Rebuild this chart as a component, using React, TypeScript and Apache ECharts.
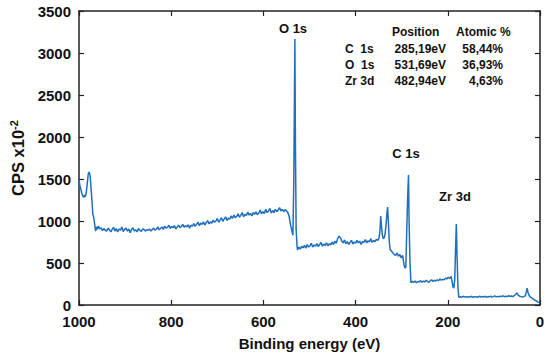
import React, { useEffect, useRef } from "react";
import * as echarts from "echarts";

// Binding energy (eV) and counts (CPS x10^-2)
const bindingEnergy: number[] = [
  1000, 998, 996, 994, 992, 990, 988, 986, 984, 982, 980, 978, 976, 974, 972, 970, 968, 966, 964, 962, 960,
  958, 955, 952, 949, 946, 943, 940, 937, 934, 931, 928, 925, 922, 919, 916, 913, 910, 907, 904, 901,
  898, 895, 892, 889, 886, 883, 880, 877, 874, 871, 868, 865, 862, 859, 856, 853, 850, 847, 844, 841,
  838, 835, 832, 829, 826, 823, 820, 817, 814, 811, 808, 805, 802, 799, 796, 793, 790, 787, 784, 781,
  778, 775, 772, 769, 766, 763, 760, 757, 754, 751, 748, 745, 742, 739, 736, 733, 730, 727, 724, 721,
  718, 715, 712, 709, 706, 703, 700, 697, 694, 691, 688, 685, 682, 679, 676, 673, 670, 667, 664, 661,
  658, 655, 652, 649, 646, 643, 640, 637, 634, 631, 628, 625, 622, 619, 616, 613, 610, 607, 604, 601,
  598, 595, 592, 589, 586, 583, 580, 577, 574, 571, 568, 565, 562, 559, 556, 553, 550, 547, 544, 541,
  538, 536, 534, 532.5, 531.7, 530.5, 529, 527, 526, 523, 520, 517, 514, 511, 508, 505, 502, 499, 496,
  493, 490, 487, 484, 481, 478, 475, 472, 469, 466, 463, 460, 457, 454, 451, 448, 445, 442, 439, 436,
  433, 430, 427, 424, 421, 418, 415, 412, 409, 406, 403, 400, 397, 394, 391, 388, 385, 382, 379, 376,
  373, 370, 367, 364, 361, 358, 355, 352, 349, 347, 345.5, 344, 342, 340, 338, 336, 334, 332, 330.5,
  329, 327, 325, 322, 319, 316, 313, 310, 307, 304, 301, 298, 295, 293, 291, 289, 287, 285.2, 284, 282,
  280, 277, 274, 271, 268, 265, 262, 259, 256, 253, 250, 247, 244, 241, 238, 235, 232, 229, 226, 223,
  220, 217, 214, 211, 208, 205, 202, 199, 196, 193, 191, 189, 187, 185, 183, 181.5, 180, 178, 176,
  173, 170, 167, 164, 161, 158, 155, 152, 149, 146, 143, 140, 137, 134, 131, 128, 125, 122, 119, 116,
  113, 110, 107, 104, 101, 98, 95, 92, 89, 86, 83, 80, 77, 74, 71, 68, 65, 62, 59, 56, 53, 50, 47, 44,
  41, 38, 35, 32, 30, 28, 26, 24, 22, 20, 16, 12, 8, 4, 0,
];

const cps: number[] = [
  1490, 1420, 1380, 1330, 1300, 1280, 1310, 1290, 1350, 1450, 1560, 1583, 1540, 1400, 1250, 1080, 1040, 960, 880, 930, 900,
  940, 905, 920, 885, 910, 890, 880, 915, 895, 870, 900, 925, 880, 910, 870, 905, 890, 930, 875, 900,
  915, 880, 905, 860, 900, 920, 880, 895, 870, 910, 890, 875, 905, 900, 880, 895, 890, 905, 880, 900,
  915, 890, 905, 930, 895, 910, 930, 900, 940, 915, 925, 950, 910, 935, 920, 945, 905, 930, 950, 920,
  935, 960, 925, 945, 930, 955, 915, 950, 940, 970, 935, 960, 985, 945, 975, 960, 990, 950, 980, 1005,
  965, 990, 975, 1010, 985, 1000, 1030, 985, 1010, 1040, 995, 1025, 1050, 1005, 1035, 1020, 1060, 1030, 1070, 1040,
  1055, 1085, 1045, 1070, 1100, 1050, 1080, 1065, 1105, 1070, 1090, 1060, 1100, 1080, 1110, 1075, 1095, 1130, 1085, 1110,
  1090, 1140, 1100, 1120, 1150, 1095, 1125, 1100, 1140, 1110, 1130, 1160, 1120, 1140, 1110, 1135, 1120, 1100, 1050, 950,
  880, 830, 1500, 2600, 3167, 1900, 900, 700, 655, 690, 665, 700, 680, 710, 675, 720, 690, 705, 735,
  690, 715, 700, 730, 695, 720, 745, 700, 725, 710, 740, 705, 730, 715, 750, 720, 760, 735, 790, 820,
  800, 760, 740, 775, 730, 755, 720, 745, 770, 725, 750, 735, 770, 740, 760, 720, 755, 745, 780, 740,
  765, 750, 790, 745, 770, 755, 780, 770, 800, 900, 1060, 950, 830, 790, 800, 850, 950, 1100, 1167,
  1000, 760, 660, 640, 620, 600, 590, 620, 580, 600, 560, 590, 480, 440, 450, 900, 1300, 1548, 1000, 500,
  265, 280, 270, 285, 265, 280, 275, 290, 270, 285, 275, 295, 280, 270, 290, 300, 280, 295, 285, 300,
  290, 310, 295, 305, 300, 320, 310, 330, 315, 340, 290, 220, 200, 300, 700, 964, 600, 200, 90,
  100, 90, 105, 95, 100, 90, 100, 95, 105, 90, 100, 95, 100, 92, 105, 95, 100, 96, 104, 92,
  100, 97, 105, 95, 100, 108, 97, 103, 98, 106, 100, 110, 98, 105, 100, 110, 102, 108, 100, 112, 125, 143, 115, 105,
  100, 95, 100, 110, 150, 202, 150, 120, 100, 90, 75, 60, 50, 35, 25,
];

const tableHeader: string[] = ["Position", "Atomic %"];
const tableElements: string[] = ["C  1s", "O  1s", "Zr 3d"];
const tablePositions: string[] = ["285,19eV", "531,69eV", "482,94eV"];
const tableAtomic: string[] = ["58,44%", "36,93%", "4,63%"];
const peakLabels: string[] = ["O 1s", "C 1s", "Zr 3d"];

const FONT = "'Liberation Sans', Arial, Helvetica, sans-serif";
const LINE = "#1f6fbf";
const AXIS = "#222";

export default function App() {
  const ref = useRef<HTMLDivElement>(null);
  useEffect(() => {
    if (!ref.current) return;
    const chart = echarts.init(ref.current, undefined, { renderer: "svg" });
    const data = bindingEnergy.map((e, i) => [e, cps[i]]);
    const txt = (x: number, y: number, text: string, align: string, size = 12) => ({
      type: "text",
      x,
      y,
      style: {
        text,
        fill: "#111",
        font: `bold ${size}px ${FONT}`,
        textAlign: align,
        textVerticalAlign: "middle",
      },
    });
    const rowsY = [49, 65, 81];
    const graphics: any[] = [
      txt(293, 28, peakLabels[0], "center", 13),
      txt(406, 153, peakLabels[1], "center", 13),
      txt(455, 196, peakLabels[2], "center", 13),
      txt(392, 32, tableHeader[0], "left"),
      txt(456, 32, tableHeader[1], "left"),
    ];
    tableElements.forEach((el, i) => {
      graphics.push(txt(345, rowsY[i], el, "left"));
      graphics.push(txt(446, rowsY[i], tablePositions[i], "right"));
      graphics.push(txt(503, rowsY[i], tableAtomic[i], "right"));
    });
    const commonAxis = {
      axisLine: { show: true, onZero: false, lineStyle: { color: AXIS, width: 1.5 } },
      axisTick: { show: true, inside: true, length: 5, lineStyle: { color: AXIS, width: 1.2 } },
      splitLine: { show: false },
    };
    const labelStyle = {
      color: "#111",
      fontFamily: FONT,
      fontWeight: "bold",
      fontSize: 15,
      formatter: (v: number) => String(v),
    };
    chart.setOption({
      animation: false,
      backgroundColor: "#fff",
      grid: { left: 74, right: 10, top: 11, bottom: 53, containLabel: false },
      xAxis: [
        {
          type: "value",
          min: 0,
          max: 1000,
          interval: 200,
          inverse: true,
          position: "bottom",
          ...commonAxis,
          axisLabel: { ...labelStyle, margin: 9 },
          name: "Binding energy (eV)",
          nameLocation: "middle",
          nameGap: 31,
          nameTextStyle: { color: "#111", fontFamily: FONT, fontWeight: "bold", fontSize: 15 },
        },
        {
          type: "value",
          min: 0,
          max: 1000,
          interval: 200,
          inverse: true,
          position: "top",
          ...commonAxis,
          axisLabel: { show: false },
        },
      ],
      yAxis: [
        {
          type: "value",
          min: 0,
          max: 3500,
          interval: 500,
          position: "left",
          ...commonAxis,
          axisLabel: { ...labelStyle, margin: 8 },
          name: "{a|CPS x10}{b|-2}",
          nameLocation: "middle",
          nameGap: 51,
          nameRotate: 90,
          nameTextStyle: {
            rich: {
              a: { color: "#111", fontFamily: FONT, fontWeight: "bold", fontSize: 16.5 },
              b: { color: "#111", fontFamily: FONT, fontWeight: "bold", fontSize: 11, verticalAlign: "top", padding: [0, 0, 9, 0] },
            },
          },
        },
        {
          type: "value",
          min: 0,
          max: 3500,
          interval: 500,
          position: "right",
          ...commonAxis,
          axisLabel: { show: false },
        },
      ],
      series: [
        {
          type: "line",
          data,
          xAxisIndex: 0,
          yAxisIndex: 0,
          showSymbol: false,
          symbol: "none",
          lineStyle: { color: LINE, width: 1.5 },
        },
      ],
      graphic: graphics,
    });
    return () => chart.dispose();
  }, []);
  return <div ref={ref} style={{ position: "absolute", left: 0, top: 0, width: 550, height: 358 }} />;
}
